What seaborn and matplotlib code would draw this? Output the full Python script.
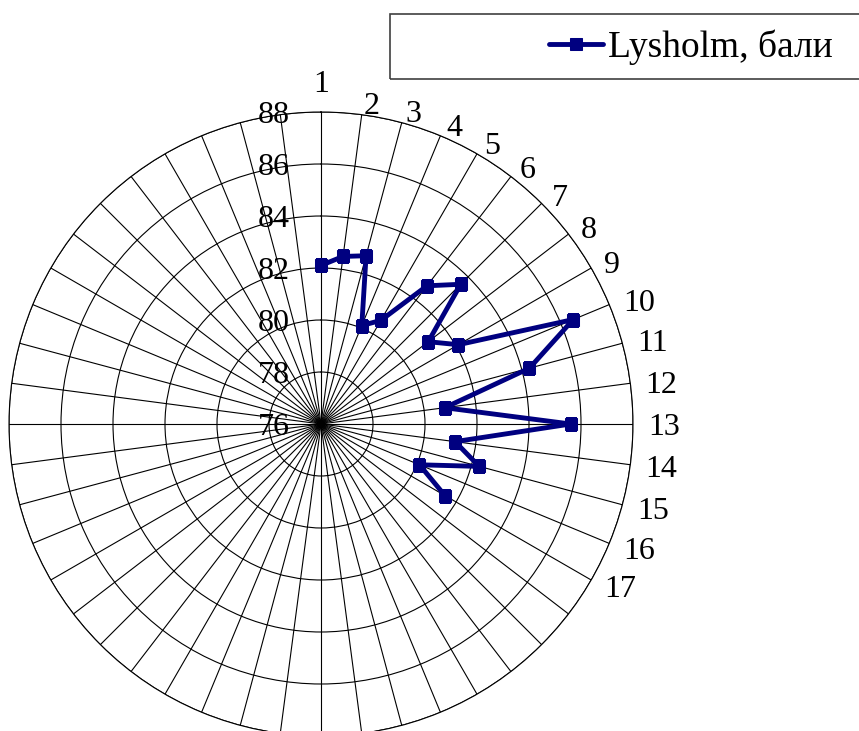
import numpy as np
import pandas as pd
import matplotlib
matplotlib.use("Agg")
import matplotlib.pyplot as plt
import matplotlib.transforms as mtransforms
from matplotlib.patches import Rectangle
import seaborn as sns

# Lysholm score per patient (1..17) on a 48-spoke radar grid
patients = [str(i) for i in range(1, 18)]
scores = [82.1, 82.5, 82.7, 80.1, 80.6, 82.7, 83.6, 81.2, 82.1,
          86.5, 84.3, 80.8, 85.6, 81.2, 82.3, 80.1, 81.5]
n_spokes = 48
ring_values = [76, 78, 80, 82, 84, 86, 88]
series_name = "Lysholm, бали"

sns.set_theme(style="white")
plt.rcParams["font.family"] = ["Liberation Serif", "DejaVu Serif"]
plt.rcParams["text.color"] = "black"

W, H = 859, 731
fig = plt.figure(figsize=(W / 100, H / 100), dpi=100)
cx, cy, R = 321, 424, 312
ax = fig.add_axes([(cx - R) / W, (H - cy - R) / H, 2 * R / W, 2 * R / H],
                  projection="polar")
ax.set_theta_zero_location("N")
ax.set_theta_direction(-1)
ax.set_ylim(ring_values[0], ring_values[-1])

angles = np.arange(n_spokes) * 2 * np.pi / n_spokes
ax.set_xticks(angles)
ax.set_xticklabels([])
ax.set_yticks(ring_values)
ax.set_yticklabels([])
ax.grid(True, color="black", linewidth=0.8)
ax.spines["polar"].set_color("black")
ax.spines["polar"].set_linewidth(0.8)

# category labels just outside the outer ring
r_out = ring_values[-1]
for th, lab in zip(angles, patients):
    if th == 0:
        tr = mtransforms.offset_copy(ax.transData, fig=fig, x=0, y=31,
                                     units="dots")
        ax.text(th, r_out, lab, transform=tr, ha="center",
                va="center_baseline", fontsize=23, color="black")
    else:
        tr = mtransforms.offset_copy(ax.transData, fig=fig,
                                     x=15 * np.sin(th), y=12 * np.cos(th),
                                     units="dots")
        ax.text(th, r_out, lab, transform=tr, ha="left",
                va="center_baseline", fontsize=23, color="black")

# ring value labels to the left of the top spoke
off = mtransforms.offset_copy(ax.transData, fig=fig, x=-31, y=0, units="dots")
for v in ring_values:
    ax.text(0, v, str(v), transform=off, ha="right", va="center_baseline",
            fontsize=23, color="black")

df = pd.DataFrame({"theta": angles[:len(scores)], "score": scores})
sns.lineplot(data=df, x="theta", y="score", ax=ax, sort=False,
             color="#000080", linewidth=3.0, marker="s", markersize=8,
             markeredgecolor="#000080", label=series_name, legend=False)
ax.set_xlabel("")
ax.set_ylabel("")

# legend box, running past the right edge
fig.patches.append(Rectangle((390 / W, 1 - 79 / H), 480 / W, 65 / H,
                             transform=fig.transFigure, fill=False,
                             edgecolor="#404040", linewidth=1.2))
handles, labels = ax.get_legend_handles_labels()
handles[0].set_linewidth(3.5)
handles[0].set_markersize(9)
leg = fig.legend(handles, labels, loc="center left",
                 bbox_to_anchor=(549 / W, 1 - 47 / H), frameon=False,
                 fontsize=27, handlelength=1.45, handletextpad=0.12,
                 borderaxespad=0, borderpad=0)
for t in leg.get_texts():
    t.set_color("black")

fig.savefig("out.png", dpi=100)
